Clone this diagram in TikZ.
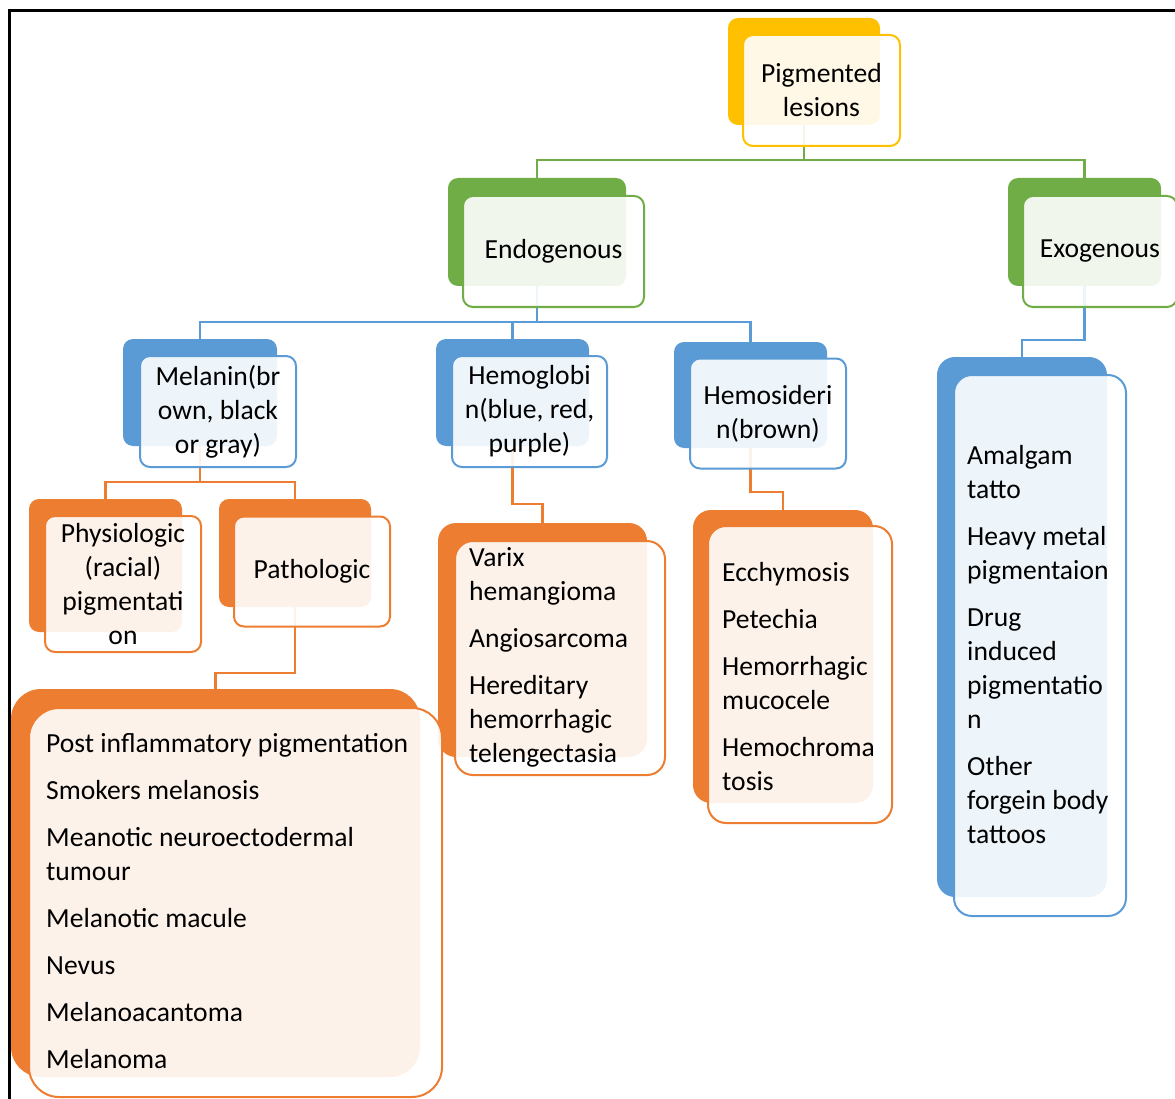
\documentclass[tikz,border=0pt]{standalone}
\usepackage{fontspec}
\setmainfont{Carlito}
\definecolor{cY}{HTML}{FFC000}
\definecolor{cG}{HTML}{70AD47}
\definecolor{cB}{HTML}{5B9BD5}
\definecolor{cO}{HTML}{ED7D31}
\newcommand\boxfont{\fontsize{27.6}{34}\selectfont}
\begin{document}
\begin{tikzpicture}[x=1pt,y=-1pt,
  back/.style={rectangle, inner sep=0pt, fill=#1, draw=none, rounded corners=10pt},
  front/.style={rectangle, inner sep=0pt, draw=#1, line width=2pt, fill=white,
                fill opacity=0.9, text opacity=1, rounded corners=10pt, align=center, font=\boxfont},
  sz/.style 2 args={minimum width=#1pt, minimum height=#2pt},
  conn/.style={draw=#1, line width=2.4pt},
  items/.style={inner sep=0pt, anchor=west, align=left, font=\boxfont}]
\useasboundingbox (0,0) rectangle (1175,1099);
% frame
\draw[line width=3pt] (9,1099) -- (9,11) -- (1175,11);

% back boxes
\node[back=cY, sz={152}{107}] (root) at (804,71.5) {};
\node[back=cG, sz={178}{108}] (endo) at (537,232) {};
\node[back=cG, sz={153}{108}] (exo) at (1084.5,232) {};
\node[back=cB, sz={154}{107}] (mel) at (200,392.5) {};
\node[back=cB, sz={153}{107}] (hgb) at (512.5,392.5) {};
\node[back=cB, sz={153}{106}] (hsd) at (750.5,395) {};
\node[back=cO, sz={153}{133}] (phys) at (105.5,565.5) {};
\node[back=cO, sz={152}{108}] (path) at (295,553) {};
\node[back=cO, sz={409}{388}, rounded corners=30pt] (lst1) at (215.5,883) {};
\node[back=cO, sz={209}{234}, rounded corners=18pt] (lst2) at (542.5,640) {};
\node[back=cO, sz={180}{293}, rounded corners=18pt] (lst3) at (783,656.5) {};
\node[back=cB, sz={170}{540}, rounded corners=18pt] (lst4) at (1022,627) {};

% junction levels
\coordinate (h0) at (0,160);
\coordinate (h1) at (0,322);
\coordinate (h2) at (0,340);
\coordinate (h3) at (0,482);
\coordinate (h4) at (0,504);
\coordinate (h5) at (0,492);
\coordinate (h6) at (0,673);

% connectors
\draw[conn=cG] (root.south) -- (root.south |- h0) -| (endo.north);
\draw[conn=cG] (root.south |- h0) -| (exo.north);
\draw[conn=cB] (endo.south) -- (endo.south |- h1) -| (mel.north);
\draw[conn=cB] (endo.south |- h1) -| (hgb.north);
\draw[conn=cB] (endo.south |- h1) -| (hsd.north);
\draw[conn=cB] (exo.south) -- (exo.south |- h2) -| (lst4.north);
\draw[conn=cO] (mel.south) -- (mel.south |- h3) -| (phys.north);
\draw[conn=cO] (mel.south |- h3) -| (path.north);
\draw[conn=cO] (hgb.south) -- (hgb.south |- h4) -| (lst2.north);
\draw[conn=cO] (hsd.south) -- (hsd.south |- h5) -| (lst3.north);
\draw[conn=cO] (path.south) -- (path.south |- h6) -| (lst1.north);

% front boxes
\node[front=cY, sz={157}{111}] (rootf) at (821.5,90.5) {Pigmented\\lesions};
\node[front=cG, sz={181}{111}] (endof) at (553.5,251.5) {Endogenous};
\node[front=cG, sz={154}{111}] (exof) at (1100,251.5) {Exogenous};
\node[front=cB, sz={156}{111}] (melf) at (218,411.5) {Melanin(br\\own, black\\or gray)};
\node[front=cB, sz={155}{111}] (hgbf) at (529.5,411.5) {Hemoglobi\\n(blue, red,\\purple)};
\node[front=cB, sz={156}{110}] (hsdf) at (768,413.5) {Hemosideri\\n(brown)};
\node[front=cO, sz={156}{136}] (physf) at (123,584) {Physiologic\\(racial)\\pigmentati\\on};
\node[front=cO, sz={156}{110}] (pathf) at (312,571.5) {Pathologic};
\node[front=cO, sz={413}{389}, rounded corners=30pt] (lst1f) at (235.5,902.5) {};
\node[front=cO, sz={210}{234}, rounded corners=18pt] (lst2f) at (560,658) {};
\node[front=cO, sz={184}{297}, rounded corners=18pt] (lst3f) at (800,674.5) {};
\node[front=cB, sz={172}{541}, rounded corners=18pt] (lst4f) at (1040,645.5) {};

% list texts
\node[items] (lst1t) at (46,901) {Post inflammatory pigmentation\\[13pt]Smokers melanosis\\[13pt]Meanotic neuroectodermal\\tumour\\[13pt]Melanotic macule\\[13pt]Nevus\\[13pt]Melanoacantoma\\[13pt]Melanoma};
\node[items] (lst2t) at (469,657) {Varix\\hemangioma\\[13pt]Angiosarcoma\\[13pt]Hereditary\\hemorrhagic\\telengectasia};
\node[items] (lst3t) at (722,677) {Ecchymosis\\[13pt]Petechia\\[13pt]Hemorrhagic\\mucocele\\[13pt]Hemochroma\\tosis};
\node[items] (lst4t) at (967,645) {Amalgam\\tatto\\[13pt]Heavy metal\\pigmentaion\\[13pt]Drug\\induced\\pigmentatio\\n\\[13pt]Other\\forgein body\\tattoos};
\end{tikzpicture}
\end{document}
